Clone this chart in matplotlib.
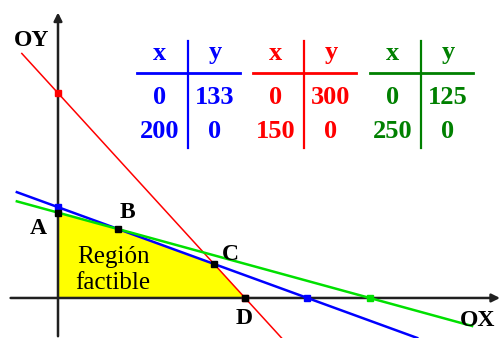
import numpy as np
import matplotlib
matplotlib.use("Agg")
import matplotlib.pyplot as plt

# Constraint lines, each given by its axis intercepts (x-intercept, y-intercept)
line_names = ["blue", "red", "green"]
x_intercepts = [200, 150, 250]
y_intercepts = [133, 300, 125]
line_colors = ["#0000ff", "#ff0000", "#00e000"]
table_colors = ["#0000ff", "#ff0000", "#008000"]
line_widths = [1.8, 1.1, 1.8]

vertex_labels = ["A", "B", "C", "D"]
region_label = "Región\nfactible"

W, H = 500, 338
fig = plt.figure(figsize=(W / 100, H / 100), dpi=100)
ax = fig.add_axes([0, 0, 1, 1])
ax.set_xlim(-46.5, 354.4)
ax.set_ylim(-58.6, 436.3)
ax.axis("off")

def px(x, y):
    return x / W, 1 - y / H

serif = ["Liberation Serif", "DejaVu Serif"]

def line_y(i, x):
    return y_intercepts[i] * (1 - np.asarray(x, dtype=float) / x_intercepts[i])

# feasible region: below all three lines, in the first quadrant
xr = np.linspace(0, min(x_intercepts), 600)
env = np.min([line_y(i, xr) for i in range(3)], axis=0)
ax.fill_between(xr, 0, env, color="#ffff00", zorder=1, linewidth=0)

# axes with arrows
ax.annotate("", xy=(354.4, 0), xytext=(-38, 0),
            arrowprops=dict(arrowstyle="-|>", color="#202020", lw=1.8,
                            mutation_scale=12, shrinkA=0, shrinkB=0), zorder=2)
ax.annotate("", xy=(0, 418), xytext=(0, -56),
            arrowprops=dict(arrowstyle="-|>", color="#202020", lw=1.8,
                            mutation_scale=12, shrinkA=0, shrinkB=0), zorder=2)

# constraint lines
x_ends = [(-33, 288), (-29, 180), (-33, 332)]
for i in range(3):
    xs = np.array(x_ends[i], dtype=float)
    ax.plot(xs, line_y(i, xs), color=line_colors[i], lw=line_widths[i], zorder=3)
    # intercept markers
    ax.plot([x_intercepts[i]], [0], "s", color=line_colors[i], ms=4, zorder=4)
ax.plot([0], [y_intercepts[0]], "s", color=line_colors[0], ms=4, zorder=4)
ax.plot([0], [y_intercepts[1]], "s", color=line_colors[1], ms=4, zorder=4)

def intersect(i, j):
    # solve x/a_i + y/b_i = 1 and x/a_j + y/b_j = 1
    A = np.array([[1 / x_intercepts[i], 1 / y_intercepts[i]],
                  [1 / x_intercepts[j], 1 / y_intercepts[j]]])
    return np.linalg.solve(A, np.ones(2))

vA = (0, y_intercepts[2])
vB = intersect(0, 2)
vC = intersect(0, 1)
vD = (x_intercepts[1], 0)
verts = [vA, vB, vC, vD]
for v in verts:
    ax.plot([v[0]], [v[1]], "s", color="black", ms=4.5, zorder=5)

lab_pos = [(38, 229), (127, 213), (230, 254), (244, 318)]
for lab, (x, y) in zip(vertex_labels, lab_pos):
    fig.text(*px(x, y), lab, fontsize=17, fontweight="bold", family=serif,
             ha="center", va="center")

fig.text(*px(113, 270), region_label, fontsize=18, family=serif,
         ha="center", va="center", linespacing=1.25)

fig.text(*px(32, 40), "OY", fontsize=17, fontweight="bold", family=serif,
         ha="center", va="center")
fig.text(*px(478, 321), "OX", fontsize=17, fontweight="bold", family=serif,
         ha="center", va="center")

# value tables for each line
table_left = [137, 253, 370]
tw = 103
for i in range(3):
    x0 = table_left[i]
    xm = x0 + 51
    c = table_colors[i]
    fig.add_artist(plt.Line2D([x0 / W, (x0 + tw) / W], [1 - 73 / H, 1 - 73 / H],
                              color=c, lw=2))
    fig.add_artist(plt.Line2D([xm / W, xm / W], [1 - 41 / H, 1 - 148 / H],
                              color=c, lw=1.6))
    cx, cy = x0 + 23, xm + 27
    rows = [("x", "y"),
            ("0", str(y_intercepts[i])),
            (str(x_intercepts[i]), "0")]
    ys = [53, 97, 132]
    for (a, b), y in zip(rows, ys):
        fig.text(*px(cx, y), a, fontsize=19, fontweight="bold", family=serif,
                 color=c, ha="center", va="center")
        fig.text(*px(cy, y), b, fontsize=19, fontweight="bold", family=serif,
                 color=c, ha="center", va="center")

fig.savefig("out.png", dpi=100)
